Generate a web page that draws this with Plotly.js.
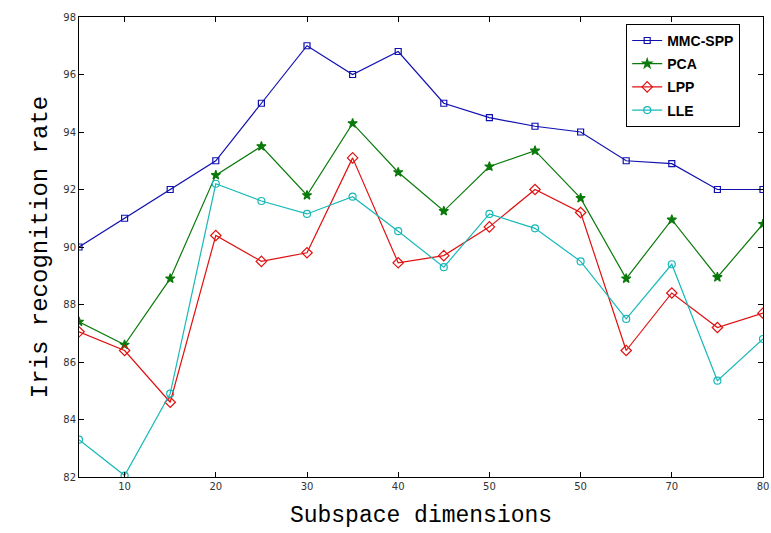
<!DOCTYPE html>
<html>
<head>
<meta charset="utf-8">
<script src="https://cdn.plot.ly/plotly-3.0.1.min.js"></script>
<style>html,body{margin:0;padding:0;background:#fff;}#chart{width:771px;height:533px;}</style>
</head>
<body>
<div id="chart"></div>
<script>
const dims = [5,10,15,20,25,30,35,40,45,50,55,60,65,70,75,80];
const mmcSpp = [90.0,91.0,92.0,93.0,95.0,97.0,96.0,96.8,95.0,94.5,94.2,94.0,93.0,92.9,92.0,92.0];
const pca = [87.4,86.6,88.9,92.5,93.5,91.8,94.3,92.6,91.25,92.8,93.35,91.7,88.9,90.95,88.95,90.8];
const lpp = [87.05,86.4,84.6,90.4,89.5,89.8,93.1,89.45,89.7,90.7,92.0,91.2,86.4,88.4,87.2,87.7];
const lle = [83.3,82.05,84.9,92.2,91.6,91.15,91.75,90.55,89.3,91.15,90.65,89.5,87.5,89.4,85.35,86.8];
const xTickVals = [10,20,30,40,50,60,70,80];
const xTickText = ['10','20','30','40','50','50','70','80'];
const yTickVals = [82,84,86,88,90,92,94,96,98];

const mk = (name, y, color, symbol, size) => ({
  x: dims, y: y, name: name, legendgroup: name, type: 'scatter', mode: 'lines+markers',
  line: {color: color, width: 1.2},
  marker: {symbol: symbol, size: size, color: color, line: {color: color, width: 1.2}}
});

const data = [
  mk('MMC-SPP', mmcSpp, '#1010b0', 'square-open', 6),
  mk('PCA', pca, '#0a7a0a', 'star', 7),
  mk('LPP', lpp, '#e01010', 'diamond-open', 8),
  mk('LLE', lle, '#18b8b8', 'circle-open', 7)
];

const layout = {
  width: 771, height: 533,
  margin: {l: 79, r: 8, t: 17, b: 56},
  paper_bgcolor: '#fff', plot_bgcolor: '#fff',
  showlegend: true,
  legend: {x: 0.8, y: 0.985, xanchor: 'left', yanchor: 'top',
    traceorder: 'grouped', tracegroupgap: 2,
    bgcolor: '#fff', bordercolor: '#000', borderwidth: 1,
    font: {family: 'Liberation Sans, Arial', size: 14, color: '#000', weight: 'bold'}},
  xaxis: {
    range: [5, 80], tickvals: xTickVals, ticktext: xTickText,
    ticks: 'inside', ticklen: 5, tickcolor: '#000', mirror: 'ticks',
    showline: true, linecolor: '#000', linewidth: 1, showgrid: false, zeroline: false,
    tickfont: {family: 'DejaVu Sans', size: 10, color: '#333'},
    title: {text: 'Subspace dimensions', font: {family: 'Liberation Mono, Courier New, monospace', size: 23, color: '#000'}, standoff: 14}
  },
  yaxis: {
    range: [82, 98], tickvals: yTickVals,
    ticks: 'inside', ticklen: 5, tickcolor: '#000', mirror: 'ticks',
    showline: true, linecolor: '#000', linewidth: 1, showgrid: false, zeroline: false,
    tickfont: {family: 'DejaVu Sans', size: 10, color: '#333'},
    title: {text: 'Iris recognition rate', font: {family: 'Liberation Mono, Courier New, monospace', size: 24, color: '#000'}, standoff: 8}
  }
};

Plotly.newPlot('chart', data, layout, {displayModeBar: false, staticPlot: true});
</script>
</body>
</html>
